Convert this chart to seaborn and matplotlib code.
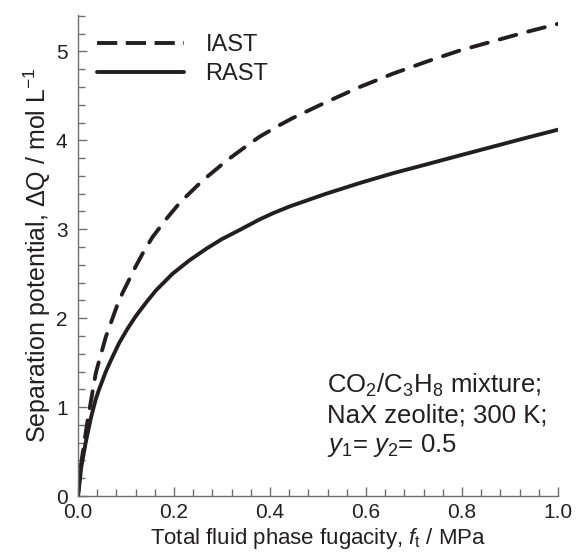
import numpy as np
import pandas as pd
import matplotlib
matplotlib.use("Agg")
import matplotlib.pyplot as plt
import seaborn as sns

# Data
iast_x = [0, 0.003, 0.008, 0.0125, 0.02, 0.028, 0.037, 0.044, 0.058, 0.068, 0.082, 0.0925,
          0.12, 0.127, 0.138, 0.155, 0.183, 0.200, 0.214, 0.239, 0.26, 0.298, 0.319, 0.357,
          0.378, 0.416, 0.447, 0.517, 0.587, 0.656, 0.726, 0.795, 0.865, 0.935, 1.0]
iast_y = [0, 0.2, 0.42, 0.58, 0.85, 1.10, 1.38, 1.52, 1.79, 1.94, 2.15, 2.28,
          2.58, 2.65, 2.76, 2.91, 3.11, 3.22, 3.31, 3.44, 3.55, 3.72, 3.81, 3.96,
          4.04, 4.16, 4.25, 4.43, 4.60, 4.75, 4.885, 5.01, 5.115, 5.22, 5.31]
rast_x = [0, 0.007, 0.016, 0.0265, 0.037, 0.044, 0.058, 0.068, 0.0856, 0.103, 0.12, 0.141,
          0.162, 0.197, 0.232, 0.267, 0.30, 0.336, 0.378, 0.406, 0.44, 0.517, 0.587, 0.656,
          0.726, 0.795, 0.865, 0.935, 1.0]
rast_y = [0, 0.33, 0.60, 0.87, 1.09, 1.20, 1.40, 1.52, 1.72, 1.88, 2.02, 2.17,
          2.31, 2.50, 2.65, 2.78, 2.89, 2.99, 3.11, 3.18, 3.255, 3.40, 3.52, 3.63,
          3.73, 3.83, 3.93, 4.03, 4.12]
series_names = ["IAST", "RAST"]
x_ticks = [0.0, 0.2, 0.4, 0.6, 0.8, 1.0]
x_tick_labels = ["0.0", "0.2", "0.4", "0.6", "0.8", "1.0"]
y_ticks = [0, 1, 2, 3, 4, 5]

sns.set_theme(style="ticks")
plt.rcParams['font.family'] = ['Liberation Sans', 'DejaVu Sans']
plt.rcParams['mathtext.fontset'] = 'custom'
plt.rcParams['mathtext.rm'] = 'Liberation Sans'
plt.rcParams['mathtext.it'] = 'Liberation Sans:italic'
plt.rcParams['mathtext.default'] = 'regular'

txt = '#231f20'
spine = '#6d6e71'
linec = '#231f20'

df = pd.concat([
    pd.DataFrame({"x": iast_x, "y": iast_y, "model": series_names[0]}),
    pd.DataFrame({"x": rast_x, "y": rast_y, "model": series_names[1]}),
])

fig = plt.figure(figsize=(5.77, 5.60), dpi=100)
ax = fig.add_axes([78/577, 1-496/560, (558-78)/577, (496-15)/560])

sns.lineplot(data=df, x="x", y="y", hue="model", style="model",
             palette={"IAST": linec, "RAST": linec},
             dashes={"IAST": (4.4, 3.2), "RAST": ""},
             linewidth=2.8, ax=ax, sort=False, estimator=None)
for ln in ax.get_lines():
    ln.set_dash_capstyle('round')
    ln.set_solid_capstyle('round')

ax.set_xlim(0, 1.0)
ax.set_ylim(0, 5.41)
ax.set_xticks(x_ticks)
ax.set_xticklabels(x_tick_labels)
ax.set_yticks(y_ticks)
ax.set_xticks(np.arange(0, 1.0001, 0.04), minor=True)
ax.set_yticks(np.arange(0, 5.41, 0.2), minor=True)
ax.tick_params(which='major', direction='in', length=6.5, width=1, color=spine,
               labelsize=15, labelcolor=txt)
ax.tick_params(which='minor', direction='in', length=5, width=1, color=spine)
ax.tick_params(axis='y', which='major', pad=7.5)
ax.tick_params(axis='x', which='major', pad=5)
for s in ['top', 'right']:
    ax.spines[s].set_visible(False)
for s in ['left', 'bottom']:
    ax.spines[s].set_color(spine)
    ax.spines[s].set_linewidth(1)

ax.set_xlabel("Total fluid phase fugacity, $\\mathit{f}_\\mathrm{t}$ / MPa", fontsize=16, color=txt, labelpad=3)
ax.set_ylabel("Separation potential, ΔQ / mol L$^{-1}$", fontsize=18, color=txt, labelpad=2)

leg = ax.legend(loc='upper left', bbox_to_anchor=(0.0, 1.0), frameon=False,
                fontsize=17, handlelength=3.7, handletextpad=0.9, labelspacing=0.3,
                borderaxespad=0.4)
for t in leg.get_texts():
    t.set_color(txt)
for h in leg.get_lines():
    h.set_linewidth(2.8)
leg.get_lines()[0].set_dashes((5.2, 2.2))
leg.get_lines()[0].set_dash_capstyle('butt')

ax.text(0.518, 0.258, "CO$_2$/C$_3$H$_8$ mixture;\nNaX zeolite; 300 K;\n$\\mathit{y}_1$= $\\mathit{y}_2$= 0.5",
        transform=ax.transAxes, fontsize=18.5, color=txt, va='top', ha='left', linespacing=1.22)

fig.savefig("out.png", dpi=100)
